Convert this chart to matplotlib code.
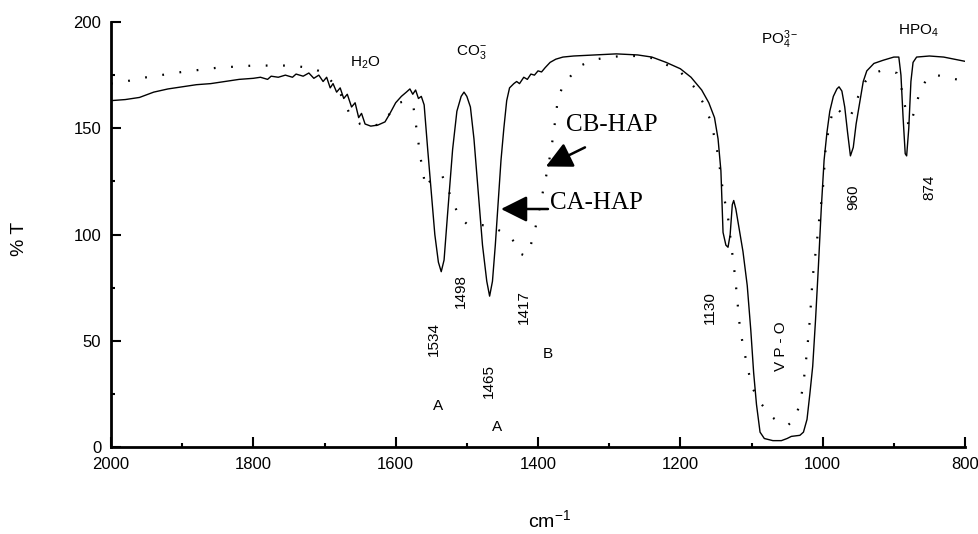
import matplotlib
matplotlib.use('Agg')
import matplotlib.pyplot as plt
import numpy as np

matplotlib.rcParams.update({
  'font.family': ['Liberation Sans', 'DejaVu Sans'],
  'mathtext.fontset': 'custom',
  'mathtext.rm': 'Liberation Sans',
  'mathtext.it': 'Liberation Sans',
  'mathtext.bf': 'Liberation Sans:bold',
})

# solid trace (wavenumber, %T)
solid_x = [2000, 1980, 1960, 1940, 1920, 1900, 1880, 1860, 1840, 1830, 1820, 1800,
           1790, 1780, 1775, 1765, 1755, 1745, 1740, 1730, 1722, 1715, 1708, 1702,
           1697, 1692, 1688, 1683, 1678, 1673, 1668, 1662, 1657, 1652, 1648, 1643,
           1635, 1625, 1615, 1608, 1600, 1592, 1585, 1580, 1576, 1572, 1568, 1564,
           1560, 1555, 1550, 1545, 1540, 1536, 1532, 1527, 1520, 1514, 1508, 1504,
           1500, 1495, 1490, 1484, 1478, 1472, 1468, 1464, 1460, 1456, 1452, 1448,
           1444, 1440, 1434, 1430, 1426, 1420, 1415, 1410, 1405, 1400, 1395, 1390,
           1383, 1375, 1365, 1350, 1320, 1290, 1260, 1240, 1220, 1200, 1185, 1170,
           1160, 1152, 1147, 1143, 1140, 1136, 1133, 1130, 1127, 1125, 1122, 1117,
           1112, 1106, 1101, 1097, 1093, 1088, 1082, 1070, 1058, 1050, 1044, 1032,
           1027, 1022, 1018, 1014, 1010, 1006, 1002, 998, 994, 990, 985, 980, 977,
           973, 969, 965, 961, 957, 953, 948, 943, 938, 928, 915, 900, 893, 890,
           887, 884, 882, 879, 876, 873, 868, 850, 830, 815, 800]
solid_y = [163, 163.5, 164.5, 167, 168.5, 169.5, 170.5, 171, 172, 172.5, 173, 173.5,
           174, 173, 174.5, 174, 175, 174, 175.5, 174.5, 176, 173.5, 175, 172,
           174, 169, 171, 167, 169, 164, 166, 160, 162, 155, 157, 152,
           151, 151.5, 153, 157, 162, 165, 167, 168.5, 166, 168, 164, 165,
           161, 140, 120, 100, 87, 82.5, 88, 110, 140, 158, 165, 167,
           165, 160, 145, 120, 95, 78, 71, 78, 95, 115, 135, 150,
           163, 169, 171, 172, 171, 174, 173, 175.5, 175, 177, 176.5, 178.5,
           181, 182.5, 183.5, 184, 184.5, 185, 184.5, 183.5, 181, 178, 174, 168,
           162, 155, 145, 130, 101, 95, 94, 100, 114, 116, 112, 102,
           92, 76, 55, 35, 20, 7, 4, 3, 3, 4, 5, 5.5,
           7, 13, 25, 38, 60, 85, 112, 135, 148, 158, 165, 168.5, 169.5,
           167.5, 160, 148, 137, 141, 152, 162, 172, 177, 180.5, 182, 183.5, 183.5, 175,
           155, 138, 137, 150, 172, 181, 183.5, 184, 183.5, 182.5, 181.5]

# dotted trace
dot_x = [2000, 1980, 1950, 1900, 1850, 1800, 1750, 1720, 1700, 1680, 1665, 1650,
         1635, 1620, 1608, 1595, 1585, 1575, 1565, 1558, 1548, 1535, 1525, 1518,
         1510, 1500, 1490, 1480, 1470, 1460, 1450, 1440, 1432, 1425, 1418, 1412,
         1405, 1398, 1392, 1387, 1382, 1378, 1372, 1365, 1358, 1348, 1340, 1330,
         1317, 1300, 1280, 1260, 1240, 1220, 1200, 1182, 1168, 1158, 1150, 1146,
         1140, 1133, 1127, 1123, 1116, 1106, 1099, 1088, 1071, 1058, 1048, 1040,
         1032, 1027, 1022, 1018, 1014, 1008, 1004, 1000, 996, 990, 983, 976,
         971, 962, 955, 950, 940, 930, 919, 905, 896, 890, 884, 879,
         874, 870, 863, 852, 840, 825, 812, 800]
dot_y = [171, 172, 174, 176.5, 178.5, 179.5, 179.5, 178.5, 176, 168, 157, 152,
         151, 152, 157, 162, 163, 160, 136, 122, 127, 128, 120, 114,
         108, 105, 104.5, 104.5, 104, 103, 101, 99, 96, 91, 90, 93,
         101, 112, 122, 130, 139, 148, 164, 170, 173, 177, 179.5, 181,
         182.5, 183.5, 184, 184, 183, 180, 176.5, 170, 162, 154, 143, 135,
         120, 108, 91, 80, 55, 38, 28, 21, 14, 11, 10.5, 13,
         20, 30, 45, 60, 80, 97, 110, 120, 140, 153, 160, 158,
         156, 155, 160, 165, 172, 175.5, 177, 177, 176, 170, 160, 150.5,
         155, 159, 168, 174, 175, 174, 173, 172]

group_labels = [(1642, 181, 'H$_2$O'), (1493, 186, 'CO$_3^{-}$'),
                (1060, 191.5, 'PO$_4^{3-}$'), (866, 196, 'HPO$_4$')]
peak_labels = [(1546, 51, '1534'), (1508, 73.4, '1498'), (1469, 31, '1465'),
               (1420, 66, '1417'), (1158, 65.4, '1130'), (957, 117.6, '960'),
               (850, 122, '874'), (1059, 47.5, 'V P - O')]
site_labels = [(1540.6, 19.3, 'A'), (1457.6, 9.4, 'A'), (1386, 43.8, 'B')]

fig = plt.figure(figsize=(9.79, 5.34), dpi=100)
ax = fig.add_axes([0.1134, 0.1629, 0.8723, 0.7959])

ax.plot(solid_x, solid_y, color='black', lw=1.0)
ax.plot(dot_x, dot_y, color='black', lw=1.6, linestyle=(0, (0.8, 7)))

ax.set_xlim(2000, 800)
ax.set_ylim(0, 200)
ax.set_xticks([2000, 1800, 1600, 1400, 1200, 1000, 800])
ax.set_xticks([1900, 1700, 1500, 1300, 1100, 900], minor=True)
ax.set_yticks([0, 50, 100, 150, 200])
ax.set_yticks([25, 75, 125, 175], minor=True)
ax.tick_params(which='major', direction='in', length=7, width=1.5, labelsize=12, pad=7)
ax.tick_params(which='minor', direction='in', length=3, width=1.5)
for s in ['top', 'right']:
  ax.spines[s].set_visible(False)
for s in ['left', 'bottom']:
  ax.spines[s].set_linewidth(2)

ax.set_ylabel('% T', fontsize=14, va='center')
ax.yaxis.set_label_coords(-0.107, 0.49)
ax.set_xlabel('cm$^{\\mathrm{-1}}$', fontsize=14, va='center')
ax.xaxis.set_label_coords(0.514, -0.172)

for x, y, t in group_labels:
  ax.text(x, y, t, ha='center', va='center', fontsize=11)
for x, y, t in peak_labels:
  ax.text(x, y, t, ha='center', va='center', fontsize=11, rotation=90)
for x, y, t in site_labels:
  ax.text(x, y, t, ha='center', va='center', fontsize=11)

ax.text(1296, 151.5, 'CB-HAP', ha='center', va='center', fontsize=18, family='Liberation Serif')
ax.text(1318.5, 114.8, 'CA-HAP', ha='center', va='center', fontsize=18, family='Liberation Serif')
arrow_kw = dict(arrowstyle='-|>,head_length=0.8,head_width=0.4', mutation_scale=20,
                lw=1.8, color='black', shrinkA=0, shrinkB=0)
ax.annotate('', xy=(1389, 132), xytext=(1334, 141), arrowprops=arrow_kw)
ax.annotate('', xy=(1452, 112), xytext=(1386, 112), arrowprops=arrow_kw)

fig.savefig('out.png', dpi=100)
